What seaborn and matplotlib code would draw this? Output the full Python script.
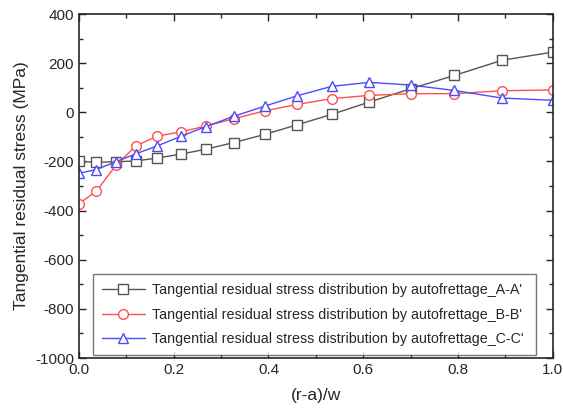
import matplotlib
matplotlib.use("Agg")
import matplotlib.pyplot as plt
import numpy as np
import pandas as pd
import seaborn as sns
from matplotlib.ticker import MultipleLocator

# series A-A'
x_a = [0.0, 0.037, 0.078, 0.12, 0.165, 0.216, 0.268, 0.327, 0.392, 0.46, 0.534, 0.613, 0.70, 0.792, 0.893, 1.0]
y_a = [-200, -203, -201, -198, -186, -170, -150, -123, -90, -51, -8, 42, 96, 150, 212, 245]
# series B-B'
x_b = [0.0, 0.037, 0.078, 0.12, 0.165, 0.216, 0.268, 0.327, 0.392, 0.46, 0.534, 0.613, 0.70, 0.792, 0.893, 1.0]
y_b = [-372, -321, -216, -137, -97, -79, -56, -26, 6, 32, 56, 69, 76, 76, 88, 91]
# series C-C'
x_c = [0.0, 0.037, 0.078, 0.12, 0.165, 0.216, 0.268, 0.327, 0.392, 0.46, 0.534, 0.613, 0.70, 0.792, 0.893, 1.0]
y_c = [-248, -233, -201, -169, -137, -97, -58, -16, 25, 67, 106, 122, 111, 89, 58, 49]

labels = ["Tangential residual stress distribution by autofrettage_A-A'",
          "Tangential residual stress distribution by autofrettage_B-B'",
          "Tangential residual stress distribution by autofrettage_C-C'"]

sns.set_style("ticks")
plt.rcParams['font.family'] = ['Liberation Sans', 'DejaVu Sans']
plt.rcParams['axes.unicode_minus'] = False

fig = plt.figure(figsize=(5.63, 4.13), dpi=100)
ax = fig.add_axes([0.140, 0.133, 0.842, 0.833])

series = [(x_a, y_a, '#555555', 's'), (x_b, y_b, '#ff5050', 'o'), (x_c, y_c, '#4a4aff', '^')]
for (xs, ys, col, mk), lab in zip(series, labels):
    sns.lineplot(x=xs, y=ys, ax=ax, color=col, marker=mk, markersize=7,
                 markerfacecolor='white', markeredgecolor=col, markeredgewidth=1.0,
                 linewidth=1.0, label=lab)

ax.set_xlim(0, 1.0)
ax.set_ylim(-1000, 400)
ax.xaxis.set_major_locator(MultipleLocator(0.2))
ax.xaxis.set_minor_locator(MultipleLocator(0.1))
ax.yaxis.set_major_locator(MultipleLocator(200))
ax.yaxis.set_minor_locator(MultipleLocator(100))
ax.tick_params(which='both', direction='in', top=True, right=True, labelsize=11, width=1.0)
ax.tick_params(which='major', length=5)
ax.tick_params(which='minor', length=3)
for sp in ax.spines.values():
    sp.set_linewidth(1.2)
ax.xaxis.set_major_formatter(matplotlib.ticker.FormatStrFormatter('%.1f'))

ax.set_xlabel("(r-a)/w", fontsize=12.5, labelpad=8)
ax.set_ylabel("Tangential residual stress (MPa)", fontsize=12.5, labelpad=4)

leg = ax.legend(loc='lower left', bbox_to_anchor=(0.03, 0.009, 0.934, 0.253), mode='expand',
                borderaxespad=0, fontsize=10.3, frameon=True, fancybox=False, handlelength=3.0,
                handletextpad=0.5, borderpad=0.6, labelspacing=0.75)
leg.get_frame().set_edgecolor('#555555')
leg.get_frame().set_linewidth(1.0)

fig.savefig("out.png", dpi=100)
